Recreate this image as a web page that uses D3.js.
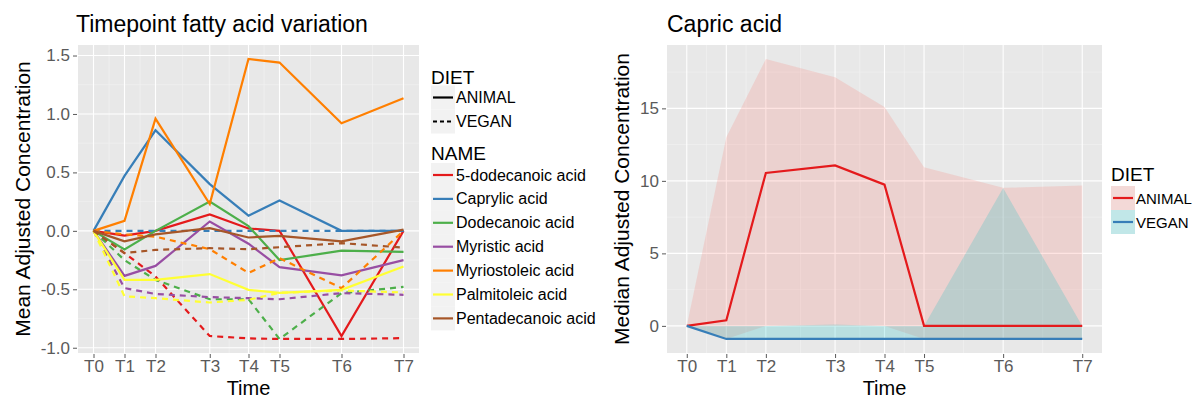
<!DOCTYPE html>
<html>
<head>
<meta charset="utf-8">
<script src="https://cdn.jsdelivr.net/npm/d3@7"></script>
<style>
  body { margin: 0; background: #fff; }
  svg text { font-family: "Liberation Sans", Arial, sans-serif; }
</style>
</head>
<body>
<svg id="chart" width="1194" height="398"></svg>
<script>
// ---------------- data ----------------
let timeLabels = ["T0", "T1", "T2", "T3", "T4", "T5", "T6", "T7"];
let timeDays = [0, 4, 8, 15, 20, 24, 32, 40];

let acidNames = ["5-dodecanoic acid", "Caprylic acid", "Dodecanoic acid", "Myristic acid",
                 "Myriostoleic acid", "Palmitoleic acid", "Pentadecanoic acid"];
let acidColors = ["#E41A1C", "#377EB8", "#4DAF4A", "#984EA3", "#FF7F00", "#FFFF33", "#A65628"];

// ANIMAL means
let animal5dodecanoic = [0, -0.04, 0, 0.14, 0.02, 0, -0.9, 0];
let animalCaprylic    = [0, 0.47, 0.86, 0.40, 0.13, 0.26, 0, 0];
let animalDodecanoic  = [0, -0.16, 0, 0.25, 0.04, -0.25, -0.17, -0.18];
let animalMyristic    = [0, -0.385, -0.30, 0.08, -0.11, -0.31, -0.38, -0.25];
let animalMyriostoleic = [0, 0.086, 0.96, 0.23, 1.47, 1.44, 0.92, 1.135];
let animalPalmitoleic = [0, -0.42, -0.42, -0.37, -0.505, -0.53, -0.505, -0.305];
let animalPentadecanoic = [0, -0.09, -0.03, 0.023, -0.057, -0.043, -0.09, 0.01];

// VEGAN means
let vegan5dodecanoic = [0, -0.19, -0.39, -0.90, -0.92, -0.925, -0.925, -0.918];
let veganCaprylic    = [0, 0, 0, 0, 0, 0, 0, 0];
let veganDodecanoic  = [0, -0.25, -0.42, -0.585, -0.585, -0.925, -0.533, -0.48];
let veganMyristic    = [0, -0.49, -0.54, -0.567, -0.576, -0.585, -0.533, -0.547];
let veganMyriostoleic = [0, -0.03, -0.05, -0.157, -0.36, -0.234, -0.49, 0];
let veganPalmitoleic = [0, -0.56, -0.576, -0.613, -0.59, -0.53, -0.51, -0.527];
let veganPentadecanoic = [0, -0.19, -0.163, -0.148, -0.157, -0.14, -0.105, -0.143];

let animalSeries = [animal5dodecanoic, animalCaprylic, animalDodecanoic, animalMyristic,
                    animalMyriostoleic, animalPalmitoleic, animalPentadecanoic];
let veganSeries = [vegan5dodecanoic, veganCaprylic, veganDodecanoic, veganMyristic,
                   veganMyriostoleic, veganPalmitoleic, veganPentadecanoic];

// Capric acid medians and ranges
let capricAnimalMedian = [0, 0.39, 10.55, 11.07, 9.74, 0, 0, 0];
let capricAnimalLow    = [0, -0.9, 0, 0, 0, -0.9, -0.9, -0.9];
let capricAnimalHigh   = [0, 13.0, 18.4, 17.15, 15.1, 10.94, 9.52, 9.68];
let capricVeganMedian  = [0, -0.9, -0.9, -0.9, -0.9, -0.9, -0.9, -0.9];
let capricVeganLow     = [0, -0.9, -0.9, -0.9, -0.9, -0.9, -0.9, -0.9];
let capricVeganHigh    = [0, 0, 0, 0.1, 0, 0, 9.5, 0];

let leftYTicks = [-1.0, -0.5, 0.0, 0.5, 1.0, 1.5];
let rightYTicks = [0, 5, 10, 15];

// ---------------- helpers ----------------
const svg = d3.select("#chart");
const panelBg = "#E8E8E8";
const axisGrey = "#5a5a5a";
const tickFont = 17;

function midpoints(arr) {
  let out = [];
  for (let i = 0; i < arr.length - 1; i++) out.push((arr[i] + arr[i + 1]) / 2);
  return out;
}

function drawPanel(g, x, y, yTicks, w, h, fmt) {
  g.append("rect").attr("width", w).attr("height", h).attr("fill", panelBg);
  // minor grid
  let step = yTicks[1] - yTicks[0];
  let minorY = midpoints(yTicks).concat([yTicks[yTicks.length - 1] + step / 2, yTicks[0] - step / 2]);
  g.selectAll(".minorY").data(minorY.filter(d => y(d) > 0 && y(d) < h))
    .enter().append("line")
    .attr("x1", 0).attr("x2", w)
    .attr("y1", d => y(d)).attr("y2", d => y(d))
    .attr("stroke", "#F3F3F3").attr("stroke-width", 0.6);
  g.selectAll(".minorX").data(midpoints(timeDays))
    .enter().append("line")
    .attr("y1", 0).attr("y2", h)
    .attr("x1", d => x(d)).attr("x2", d => x(d))
    .attr("stroke", "#F3F3F3").attr("stroke-width", 0.6);
  // major grid
  g.selectAll(".majorY").data(yTicks).enter().append("line")
    .attr("x1", 0).attr("x2", w)
    .attr("y1", d => y(d)).attr("y2", d => y(d))
    .attr("stroke", "#fff").attr("stroke-width", 1.1);
  g.selectAll(".majorX").data(timeDays).enter().append("line")
    .attr("y1", 0).attr("y2", h)
    .attr("x1", d => x(d)).attr("x2", d => x(d))
    .attr("stroke", "#fff").attr("stroke-width", 1.1);

  // axes
  let yAxis = d3.axisLeft(y).tickValues(yTicks).tickSize(4).tickPadding(3).tickFormat(fmt);
  let ya = g.append("g").call(yAxis);
  ya.select(".domain").remove();
  ya.selectAll("line").attr("stroke", axisGrey).attr("transform", "translate(-1,0)");
  ya.selectAll("text").attr("fill", axisGrey).attr("font-size", tickFont)
    .attr("font-family", "Liberation Sans, Arial, sans-serif").attr("dx", -1);

  let xAxis = d3.axisBottom(x).tickValues(timeDays).tickSize(4).tickPadding(2)
    .tickFormat((d, i) => timeLabels[i]);
  let xa = g.append("g").attr("transform", "translate(0," + (h + 1) + ")").call(xAxis);
  xa.select(".domain").remove();
  xa.selectAll("line").attr("stroke", axisGrey);
  xa.selectAll("text").attr("fill", axisGrey).attr("font-size", tickFont)
    .attr("font-family", "Liberation Sans, Arial, sans-serif");
}

// ---------------- left chart ----------------
const L = { left: 78, top: 45, w: 341, h: 308 };
const xL = d3.scaleLinear().domain([-2, 42]).range([0, L.w]);
const yL = d3.scaleLinear().domain([-1.045, 1.59]).range([L.h, 0]);
const gL = svg.append("g").attr("transform", `translate(${L.left},${L.top})`);
drawPanel(gL, xL, yL, leftYTicks, L.w, L.h, d => d.toFixed(1));

const lineL = d3.line().x((d, i) => xL(timeDays[i])).y(d => yL(d));
acidNames.forEach((name, k) => {
  gL.append("path").datum(animalSeries[k])
    .attr("d", lineL).attr("fill", "none")
    .attr("stroke", acidColors[k]).attr("stroke-width", 2.2);
  gL.append("path").datum(veganSeries[k])
    .attr("d", lineL).attr("fill", "none")
    .attr("stroke", acidColors[k]).attr("stroke-width", 2.2)
    .attr("stroke-dasharray", "6,5");
});

svg.append("text").attr("x", 76).attr("y", 32).attr("font-size", 23).attr("fill", "#000")
  .text("Timepoint fatty acid variation");
svg.append("text").attr("x", L.left + xL(20)).attr("y", 395).attr("text-anchor", "middle")
  .attr("font-size", 20).text("Time");
svg.append("text").attr("transform", `translate(30,${L.top + L.h / 2}) rotate(-90)`)
  .attr("text-anchor", "middle").attr("font-size", 21).text("Mean Adjusted Concentration");

// left legend
const legL = svg.append("g").attr("transform", "translate(431,0)");
legL.append("text").attr("x", 0).attr("y", 84).attr("font-size", 19).text("DIET");
["ANIMAL", "VEGAN"].forEach((lab, i) => {
  let cy = 97.5 + i * 24;
  legL.append("rect").attr("x", 0).attr("y", cy - 12).attr("width", 24).attr("height", 24)
    .attr("fill", "#F2F2F2");
  legL.append("line").attr("x1", 2).attr("x2", 22).attr("y1", cy).attr("y2", cy)
    .attr("stroke", "#000").attr("stroke-width", 2.2)
    .attr("stroke-dasharray", i == 1 ? "4,3" : null);
  legL.append("text").attr("x", 25).attr("y", cy + 5.5).attr("font-size", 16).text(lab);
});
legL.append("text").attr("x", 0).attr("y", 160).attr("font-size", 19).text("NAME");
acidNames.forEach((lab, i) => {
  let cy = 175 + i * 23.9;
  legL.append("rect").attr("x", 0).attr("y", cy - 12).attr("width", 24).attr("height", 24)
    .attr("fill", "#F2F2F2");
  legL.append("line").attr("x1", 2).attr("x2", 22).attr("y1", cy).attr("y2", cy)
    .attr("stroke", acidColors[i]).attr("stroke-width", 2.2);
  legL.append("text").attr("x", 25).attr("y", cy + 5.5).attr("font-size", 16).text(lab);
});

// ---------------- right chart ----------------
const R = { left: 667, top: 45, w: 435, h: 308 };
const xR = d3.scaleLinear().domain([-2, 42]).range([0, R.w]);
const yR = d3.scaleLinear().domain([-1.87, 19.37]).range([R.h, 0]);
const gR = svg.append("g").attr("transform", `translate(${R.left},${R.top})`);
drawPanel(gR, xR, yR, rightYTicks, R.w, R.h, d3.format("d"));

const areaR = d3.area().x((d, i) => xR(timeDays[i])).y0(d => yR(d[0])).y1(d => yR(d[1]));
const lineR = d3.line().x((d, i) => xR(timeDays[i])).y(d => yR(d));
const dietFill = ["#F8766D", "#00BFC4"];
const dietLine = ["#E41A1C", "#377EB8"];
let ribbons = [d3.zip(capricAnimalLow, capricAnimalHigh), d3.zip(capricVeganLow, capricVeganHigh)];
let medians = [capricAnimalMedian, capricVeganMedian];
ribbons.forEach((r, i) => {
  gR.append("path").datum(r).attr("d", areaR).attr("fill", dietFill[i]).attr("fill-opacity", 0.2);
});
medians.forEach((m, i) => {
  gR.append("path").datum(m).attr("d", lineR).attr("fill", "none")
    .attr("stroke", dietLine[i]).attr("stroke-width", 2.2);
});

svg.append("text").attr("x", 667).attr("y", 32).attr("font-size", 23).text("Capric acid");
svg.append("text").attr("x", R.left + xR(20)).attr("y", 395).attr("text-anchor", "middle")
  .attr("font-size", 20).text("Time");
svg.append("text").attr("transform", `translate(629,${R.top + R.h / 2}) rotate(-90)`)
  .attr("text-anchor", "middle").attr("font-size", 21).text("Median Adjusted Concentration");

// right legend
const legR = svg.append("g").attr("transform", "translate(1111,0)");
legR.append("text").attr("x", 0).attr("y", 181).attr("font-size", 19).text("DIET");
["ANIMAL", "VEGAN"].forEach((lab, i) => {
  let cy = 198 + i * 24;
  legR.append("rect").attr("x", 0).attr("y", cy - 12).attr("width", 24).attr("height", 24)
    .attr("fill", "#F2F2F2");
  legR.append("rect").attr("x", 0).attr("y", cy - 12).attr("width", 24).attr("height", 24)
    .attr("fill", dietFill[i]).attr("fill-opacity", 0.2);
  legR.append("line").attr("x1", 2).attr("x2", 22).attr("y1", cy).attr("y2", cy)
    .attr("stroke", dietLine[i]).attr("stroke-width", 2.2);
  legR.append("text").attr("x", 25).attr("y", cy + 5.5).attr("font-size", 15).text(lab);
});
</script>
</body>
</html>
